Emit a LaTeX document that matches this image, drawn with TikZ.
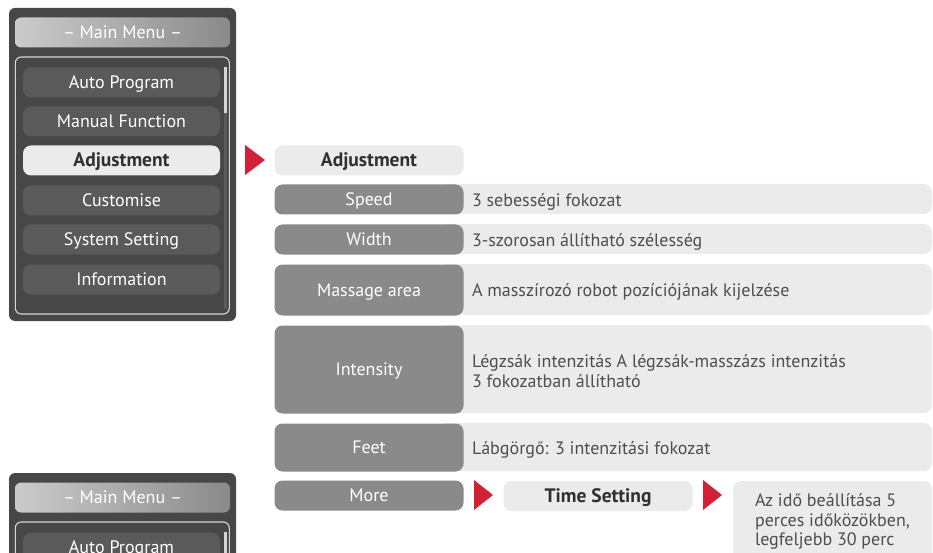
\documentclass[tikz,border=0pt]{standalone}
\usepackage{fontspec}
\setmainfont{PT Sans}
\definecolor{panelbg}{HTML}{474747}
\definecolor{btnbg}{HTML}{5A5A5A}
\definecolor{lightbg}{HTML}{EBEBEB}
\definecolor{labelbg}{HTML}{8A8A8A}
\definecolor{desctext}{HTML}{4E4E4E}
\definecolor{boldtext}{HTML}{303030}
\definecolor{accent}{HTML}{D42035}
\definecolor{framec}{HTML}{D6D6D6}
\newcommand{\regfont}{\fontsize{18}{20}\selectfont}
\newcommand{\boldfont}{\fontsize{19.5}{20}\selectfont\bfseries}
\tikzset{
  every node/.style={inner sep=0pt, outer sep=0pt},
  oneline/.style={text height=12.3pt, text depth=0pt},
  menubtn/.style={fill=btnbg, rounded corners=8pt, minimum width=197pt, minimum height=30pt, text=white, font=\regfont, oneline},
  menusel/.style={menubtn, fill=lightbg, text=boldtext, font=\boldfont},
  labelbox/.style={fill=labelbg, rounded corners=8pt, minimum width=189pt, text=white, font=\regfont, oneline},
  rowbg/.style={fill=lightbg, rounded corners=8pt, minimum width=492pt},
  headbox/.style={fill=lightbg, rounded corners=8pt, minimum width=189pt, minimum height=30pt, text=boldtext, font=\boldfont, oneline},
  desc/.style={anchor=west, text=desctext, align=left, font=\regfont},
  pointer/.style={fill=accent},
  panelbox/.style={fill=panelbg, rounded corners=6pt, minimum width=227pt, minimum height=313pt},
  headbar/.style={left color=framec!95!black, right color=labelbg, rounded corners=6pt, minimum width=215pt, minimum height=30pt, text=white, font=\regfont, oneline},
  framebox/.style={draw=framec, line width=1.1pt, rounded corners=6pt, minimum width=214pt, minimum height=257pt},
}
\begin{document}
\begin{tikzpicture}[x=1pt,y=-1pt]
\useasboundingbox (0,0) rectangle (933,553);
\fill[white] (0,0) rectangle (933,553);
\begin{scope}
\clip (0,0) rectangle (933,553);
% top menu panel
\node[panelbox] (panel) at (122.5,164.5) {};
\node[headbar] (head) at (122.5,32.5) {– Main Menu –};
\node[framebox] (frame) at (122.3,185.5) {};
\node[menubtn] (auto) at (121.5,82.5) {Auto Program};
\node[menubtn] (manual) at (121.5,121.5) {Manual Function};
\node[menusel] (adj) at (121.5,160.5) {Adjustment};
\node[menubtn] (cust) at (121.5,200.5) {Customise};
\node[menubtn] (sys) at (121.5,239.5) {System Setting};
\node[menubtn] (info) at (121.5,279.5) {Information};
\fill[btnbg] (223.5,67) rectangle (226.5,309);
\fill[framec] (223.5,67) rectangle (226.5,113);

% bottom menu panel (cropped copy)
\begin{scope}[yshift=-465pt]
\node[panelbox] (panelB) at (122.5,164.5) {};
\node[headbar] (headB) at (122.5,32.5) {– Main Menu –};
\node[framebox] (frameB) at (122.3,185.5) {};
\node[menubtn] (autoB) at (121.5,82.5) {Auto Program};
\fill[btnbg] (223.5,67) rectangle (226.5,309);
\fill[framec] (223.5,67) rectangle (226.5,113);
\end{scope}

% pointer to adjustment
\fill[pointer] (245,145) -- (265,160) -- (245,175) -- cycle;

% adjustment header
\node[headbox] (adjhead) at (369,160.5) {Adjustment};

% rows: light backgrounds
\node[rowbg, minimum height=30pt] (speedbg) at (686,199) {};
\node[rowbg, minimum height=30pt] (widthbg) at (686,239) {};
\node[rowbg, minimum height=51pt] (massbg) at (686,289.5) {};
\node[rowbg, minimum height=88pt] (intbg) at (686,369) {};
\node[rowbg, minimum height=48pt] (feetbg) at (686,447) {};

% labels
\node[labelbox, minimum height=30pt] (speed) at (369,199.5) {Speed};
\node[labelbox, minimum height=30pt] (width) at (369,239.5) {Width};
\node[labelbox, minimum height=51pt] (mass) at (369,290) {Massage area};
\node[labelbox, minimum height=88pt] (int) at (369,369.5) {Intensity};
\node[labelbox, minimum height=48pt] (feet) at (369,447.5) {Feet};
\node[labelbox, minimum height=30pt] (more) at (369,495.5) {More};

% descriptions
\node[desc, oneline] (speedd) at (472,200) {3 sebességi fokozat};
\node[desc, oneline] (widthd) at (472,240) {3-szorosan állítható szélesség};
\node[desc, oneline] (massd) at (472,290.5) {A masszírozó robot pozíciójának kijelzése};
\node[desc, anchor=north west] (intd) at (472,355) {Légzsák intenzitás A légzsák-masszázs intenzitás\\3 fokozatban állítható};
\node[desc, oneline] (feetd) at (472,448) {Lábgörgő: 3 intenzitási fokozat};

% more -> time setting
\fill[pointer] (474,480) -- (493,495) -- (474,510) -- cycle;
\node[headbox] (time) at (598,496) {Time Setting};
\fill[pointer] (703,480) -- (722,495) -- (703,510) -- cycle;
\node[fill=lightbg, rounded corners=8pt, minimum width=199pt, minimum height=110pt] (timebg) at (832.5,536) {};
\node[desc, anchor=north west, font=\fontsize{18}{19.5}\selectfont] (timed) at (755,494) {Az idő beállítása 5\\perces időközökben,\\legfeljebb 30 perc};
\end{scope}
\end{tikzpicture}
\end{document}
